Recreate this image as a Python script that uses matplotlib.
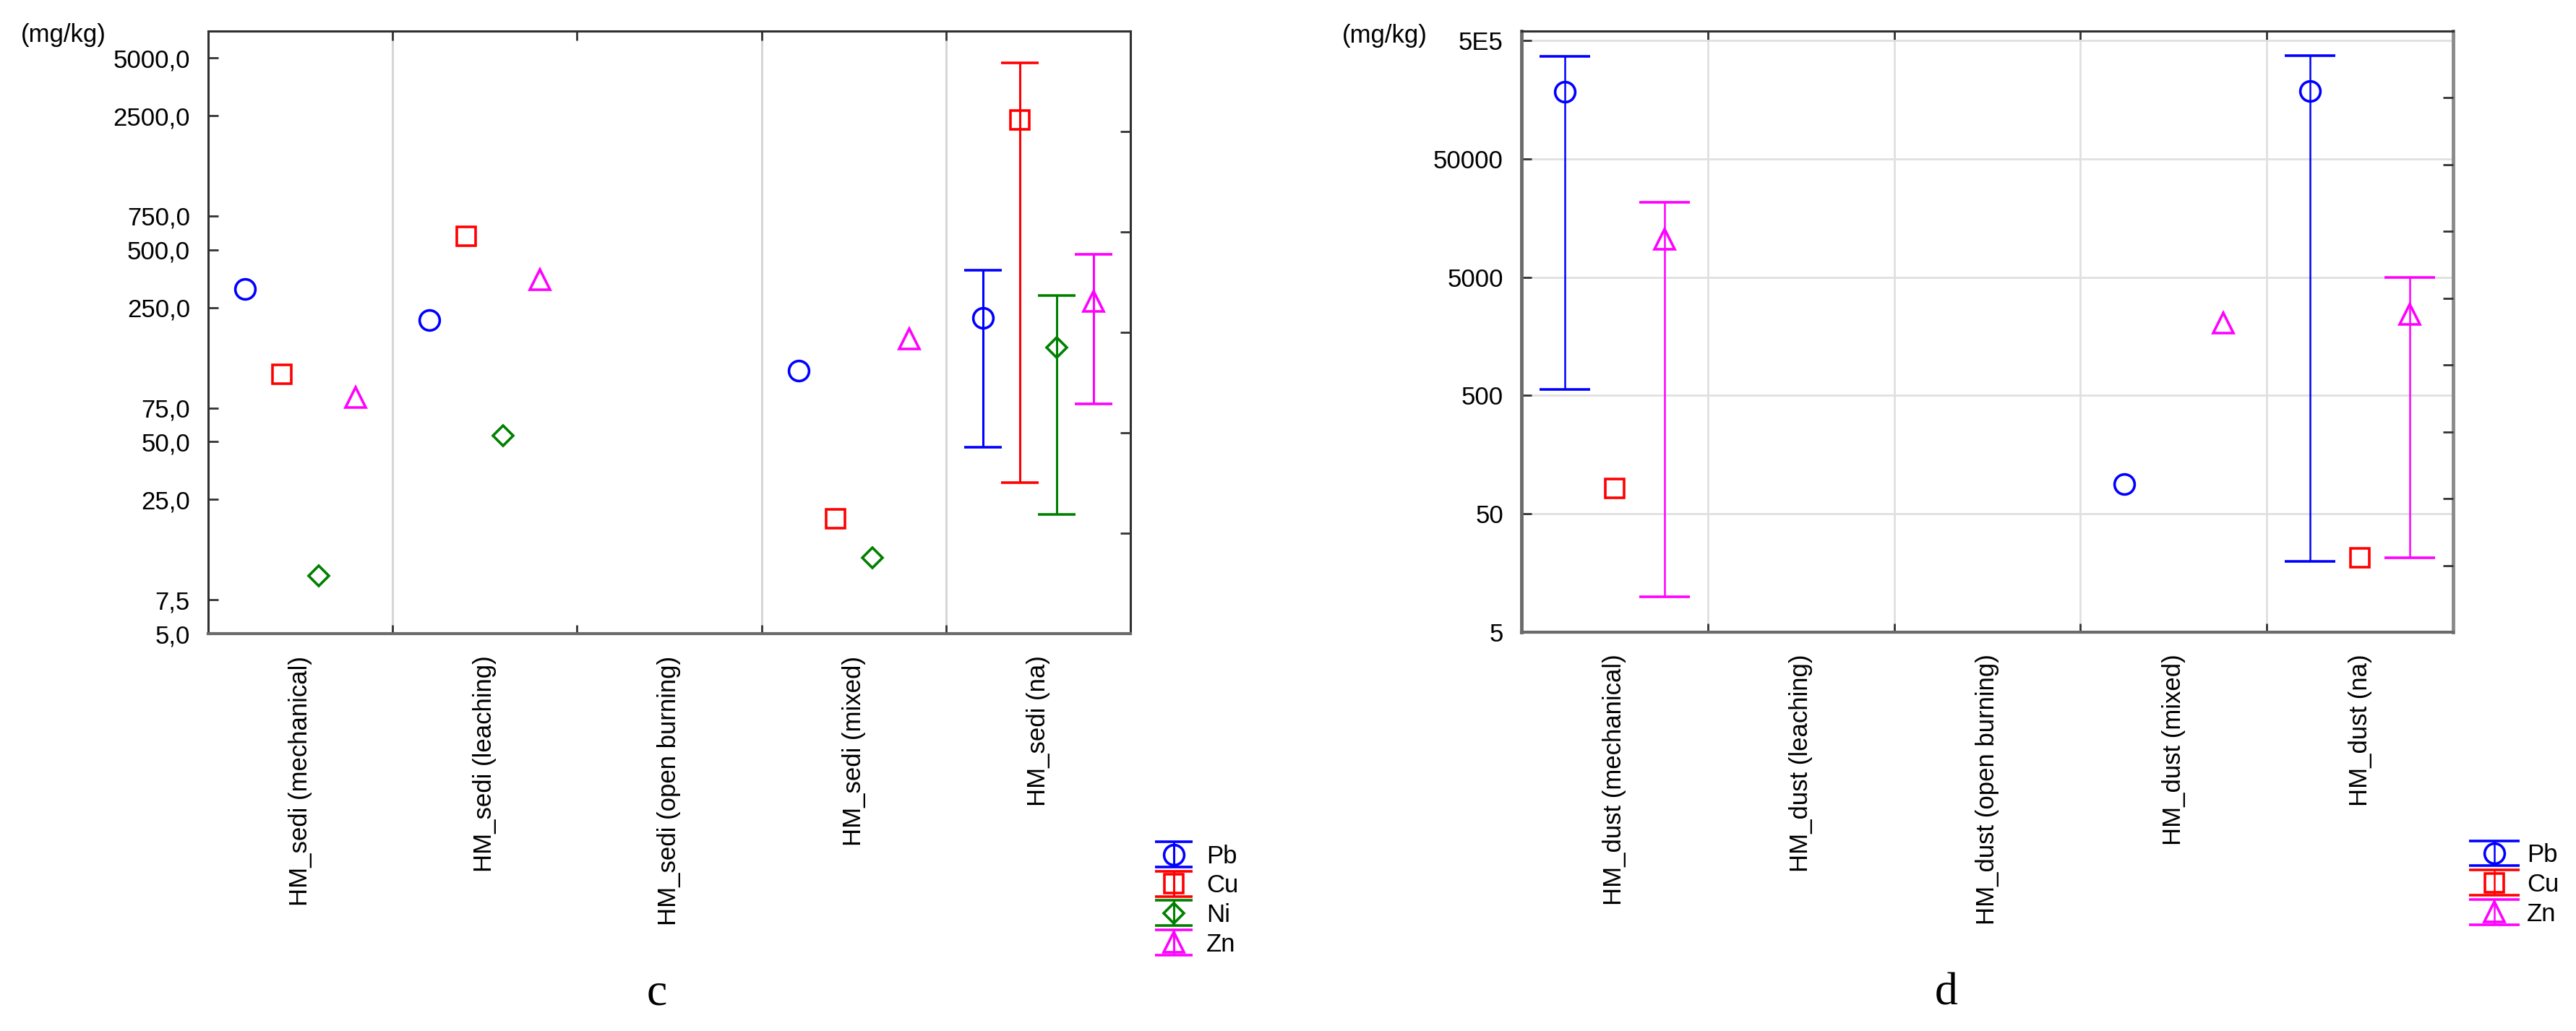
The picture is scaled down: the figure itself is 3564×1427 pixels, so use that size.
import numpy as np
import matplotlib.pyplot as plt
from matplotlib.ticker import NullLocator

plt.rcParams['font.family'] = ['Liberation Sans', 'DejaVu Sans']

nan = np.nan

# panel c: sediment (mg/kg), categories along x
sedi_cats = ['HM_sedi (mechanical)', 'HM_sedi (leaching)', 'HM_sedi (open burning)',
             'HM_sedi (mixed)', 'HM_sedi (na)']
sedi_names = ['Pb', 'Cu', 'Ni', 'Zn']
sedi_mean = [[313, 215, nan, 117, 220],
             [112, 588, nan, 19.9, 2380],
             [10.0, 54, nan, 12.4, 155],
             [85, 351, nan, 172, 270]]
sedi_low = [[nan, nan, nan, nan, 47],
            [nan, nan, nan, nan, 30.6],
            [nan, nan, nan, nan, 20.9],
            [nan, nan, nan, nan, 79]]
sedi_high = [[nan, nan, nan, nan, 392],
             [nan, nan, nan, nan, 4720],
             [nan, nan, nan, nan, 289],
             [nan, nan, nan, nan, 474]]
sedi_ticks = [5, 7.5, 25, 50, 75, 250, 500, 750, 2500, 5000]
sedi_ticklabels = ['5,0', '7,5', '25,0', '50,0', '75,0', '250,0', '500,0', '750,0', '2500,0', '5000,0']

# panel d: dust (mg/kg)
dust_cats = ['HM_dust (mechanical)', 'HM_dust (leaching)', 'HM_dust (open burning)',
             'HM_dust (mixed)', 'HM_dust (na)']
dust_names = ['Pb', 'Cu', 'Zn']
dust_mean = [[184000, nan, nan, 89.5, 187000],
             [81.6, nan, nan, nan, 21.2],
             [10500, nan, nan, 2040, 2420]]
dust_low = [[560, nan, nan, nan, 19.8],
            [nan, nan, nan, nan, nan],
            [10, nan, nan, nan, 21.2]]
dust_high = [[367000, nan, nan, nan, 374000],
             [nan, nan, nan, nan, nan],
             [21300, nan, nan, nan, 5000]]
dust_ticks = [5, 50, 500, 5000, 50000, 500000]
dust_ticklabels = ['5', '50', '500', '5000', '50000', '5E5']

colors = {'Pb': '#0000ff', 'Cu': '#ff0000', 'Ni': '#008000', 'Zn': '#ff00ff'}
markers = {'Pb': 'o', 'Cu': 's', 'Ni': 'D', 'Zn': '^'}
msizes = {'Pb': 20, 'Cu': 19, 'Ni': 14, 'Zn': 20}


def draw_panel(ax, cats, names, mean, low, high, ticks, ticklabels, ymax, capsize, elw):
    x = np.arange(1, len(cats) + 1)
    n = len(names)
    handles = []
    for i, name in enumerate(names):
        off = (i - (n - 1) / 2) * 0.8 / n
        v = np.array(mean[i], dtype=float)
        yerr = np.array([v - np.array(low[i], dtype=float),
                         np.array(high[i], dtype=float) - v])
        h = ax.errorbar(x + off, v, yerr=yerr, fmt=markers[name], ms=msizes[name],
                        mfc='none', mec=colors[name], mew=2.6, ecolor=colors[name],
                        elinewidth=elw, capsize=capsize, capthick=elw, label=name, zorder=3)
        handles.append(h)
    ax.set_yscale('log')
    ax.set_ylim(5, ymax)
    ax.set_xlim(0.5, len(cats) + 0.5)
    ax.set_yticks(ticks, ticklabels)
    ax.yaxis.set_minor_locator(NullLocator())
    ax.set_xticks(x, cats, rotation=90)
    ax.set_xticks(x[:-1] + 0.5, minor=True)
    ax.tick_params(axis='x', which='major', length=0, pad=22, labelsize=25)
    ax.tick_params(axis='x', which='minor', direction='in', length=9, width=2,
                   top=True, bottom=True, color='#333333')
    ax.tick_params(axis='y', direction='in', length=10, width=2, pad=18,
                   labelsize=25, color='#333333')
    for s in ax.spines.values():
        s.set_linewidth(2.2)
        s.set_color('#303030')
    ax.spines['bottom'].set_color('#6a6a6a')
    ax.spines['bottom'].set_linewidth(3)
    return handles


def right_ticks(ax, parts):
    tw = ax.twinx()
    tw.set_ylim(0, 1)
    tw.set_yticks(np.arange(1, parts) / parts)
    tw.tick_params(axis='y', direction='in', length=10, width=2, labelright=False,
                   color='#333333')
    for s in tw.spines.values():
        s.set_visible(False)


fig = plt.figure(figsize=(35.64, 14.27), dpi=100)
ax1 = fig.add_axes([0.0808, 0.3854, 0.358, 0.5845])
ax2 = fig.add_axes([0.5906, 0.3868, 0.3617, 0.5831])

h1 = draw_panel(ax1, sedi_cats, sedi_names, sedi_mean, sedi_low, sedi_high,
                sedi_ticks, sedi_ticklabels, 6900, 18.5, 2.2)
for xs in [1.5, 3.5, 4.5]:
    ax1.axvline(xs, color='#d6d6d6', lw=2.2, zorder=0)
right_ticks(ax1, 6)

h2 = draw_panel(ax2, dust_cats, dust_names, dust_mean, dust_low, dust_high,
                dust_ticks, dust_ticklabels, 600000, 25, 1.8)
ax2.grid(axis='y', which='major', color='#e0e0e0', lw=2, zorder=0)
ax2.grid(axis='x', which='minor', color='#e0e0e0', lw=2, zorder=0)
ax2.spines['left'].set_color('#6a6a6a')
ax2.spines['left'].set_linewidth(3.5)
ax2.spines['right'].set_color('#8a8a8a')
ax2.spines['right'].set_linewidth(3.5)
right_ticks(ax2, 9)

fig.text(0.008, 0.966, '(mg/kg)', fontsize=25, ha='left', va='center')
fig.text(0.521, 0.965, '(mg/kg)', fontsize=25, ha='left', va='center')

fig.legend(handles=h1, labels=sedi_names, loc='upper left', bbox_to_anchor=(0.4478, 0.181),
           frameon=False, fontsize=25, handlelength=1.6, handletextpad=0.5,
           labelspacing=0.22, borderpad=0, borderaxespad=0)
fig.legend(handles=h2, labels=dust_names, loc='upper left', bbox_to_anchor=(0.9604, 0.182),
           frameon=False, fontsize=25, handlelength=1.6, handletextpad=0.5,
           labelspacing=0.22, borderpad=0, borderaxespad=0)

fig.text(0.255, 0.036, 'c', family=['Liberation Serif', 'DejaVu Serif'], fontsize=46,
         ha='center', va='center')
fig.text(0.7556, 0.036, 'd', family=['Liberation Serif', 'DejaVu Serif'], fontsize=46,
         ha='center', va='center')

fig.savefig('out.png', dpi=100)
